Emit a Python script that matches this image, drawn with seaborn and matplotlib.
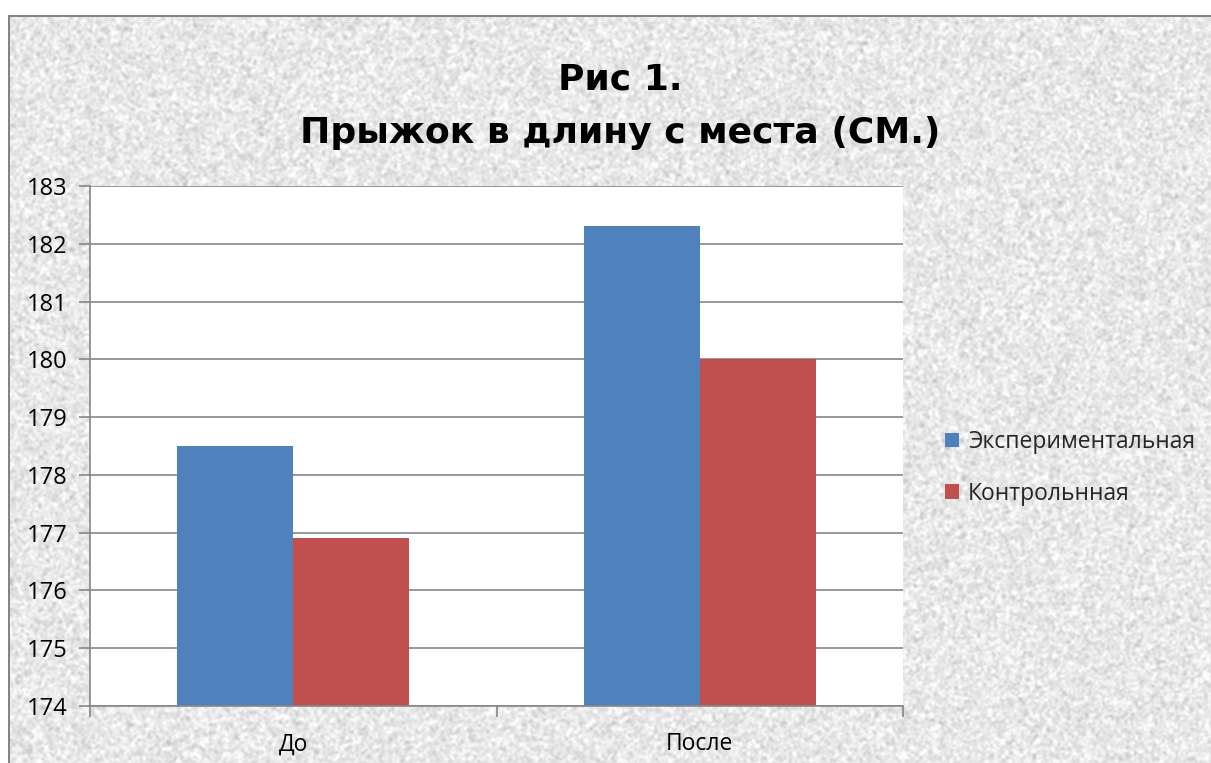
import numpy as np
import pandas as pd
import matplotlib
matplotlib.use("Agg")
import matplotlib.pyplot as plt
from matplotlib.patches import Patch
import seaborn as sns

# ---- data ----
categories = ["До", "После"]
series_names = ["Экспериментальная", "Контрольнная"]
exp_values = [178.5, 182.3]
ctrl_values = [176.9, 180.0]
y_ticks = [174, 175, 176, 177, 178, 179, 180, 181, 182, 183]
title_line1 = "Рис 1."
title_line2 = "Прыжок в длину с места (СМ.)"

colors = ["#4F81BD", "#C0504D"]

df = pd.DataFrame({
    "cat": categories * 2,
    "series": [series_names[0]] * 2 + [series_names[1]] * 2,
    "value": exp_values + ctrl_values,
})

sns.set_theme(style="white")
plt.rcParams["font.family"] = ["Open Sans", "DejaVu Sans"]

W, H = 1211, 763
fig = plt.figure(figsize=(W / 100, H / 100), dpi=100)

# textured background (decoration only)
rng = np.random.default_rng(3)
noise = rng.normal(size=(H, W))
k = np.ones(3) / 3
for _ in range(2):
    noise = np.apply_along_axis(lambda r: np.convolve(r, k, mode="same"), 1, noise)
    noise = np.apply_along_axis(lambda c: np.convolve(c, k, mode="same"), 0, noise)
noise = noise / noise.std()
tex = np.clip(0.912 + 0.037 * noise, 0.77, 0.99)
img = np.dstack([tex, tex, tex])
img[:15, :, :] = 1.0
img[:, :8, :] = 1.0
img[15:17, 8:, :] = 0.52
img[15:, 8:10, :] = 0.52
fig.figimage(img, xo=0, yo=0, origin="upper", zorder=-5)

ax = fig.add_axes([90 / W, 1 - 706 / H, (903 - 90) / W, (706 - 186) / H])
ax.set_facecolor("white")

sns.barplot(data=df, x="cat", y="value", hue="series", palette=colors,
            width=0.57, gap=0, saturation=1, ax=ax, legend=False,
            edgecolor="none", linewidth=0, zorder=3)

ax.set_ylim(174, 183)
ax.set_xlim(-0.5, 1.5)
ax.set_yticks(y_ticks)
ax.set_yticklabels([str(t) for t in y_ticks], fontsize=17, color="black")
ax.set_xticks([0, 1])
ax.set_xticklabels(categories, fontsize=16.5, color="black")
ax.set_xticks([-0.5, 0.5, 1.5], minor=True)
ax.tick_params(axis="x", which="major", length=0, pad=19)
ax.tick_params(axis="x", which="minor", length=8, width=1.2, color="#868686", direction="out", bottom=True)
ax.tick_params(axis="y", which="major", length=8, width=1.2, color="#868686", direction="out", pad=8, left=True)
ax.set_xlabel("")
ax.set_ylabel("")
ax.grid(axis="y", color="#868686", linewidth=1.2, zorder=0)
ax.set_axisbelow(True)
for s in ["top", "right"]:
    ax.spines[s].set_visible(False)
for s in ["left", "bottom"]:
    ax.spines[s].set_color("#868686")
    ax.spines[s].set_linewidth(1.2)
    ax.spines[s].set_zorder(5)

fig.text(620 / W, 1 - 90 / H, title_line1, ha="center", va="baseline",
         fontsize=26, fontweight="bold", color="black", family="DejaVu Sans")
fig.text(620 / W, 1 - 143 / H, title_line2, ha="center", va="baseline",
         fontsize=26, fontweight="bold", color="black", family="DejaVu Sans")

handles = [Patch(facecolor=c, edgecolor="none") for c in colors]
fig.legend(handles, series_names, loc="upper left",
           bbox_to_anchor=(945 / W, 1 - 430 / H), frameon=False,
           fontsize=16.5, handlelength=0.62, handleheight=0.62,
           handletextpad=0.38, labelspacing=1.2, borderpad=0, borderaxespad=0)

fig.savefig("out.png", dpi=100)
